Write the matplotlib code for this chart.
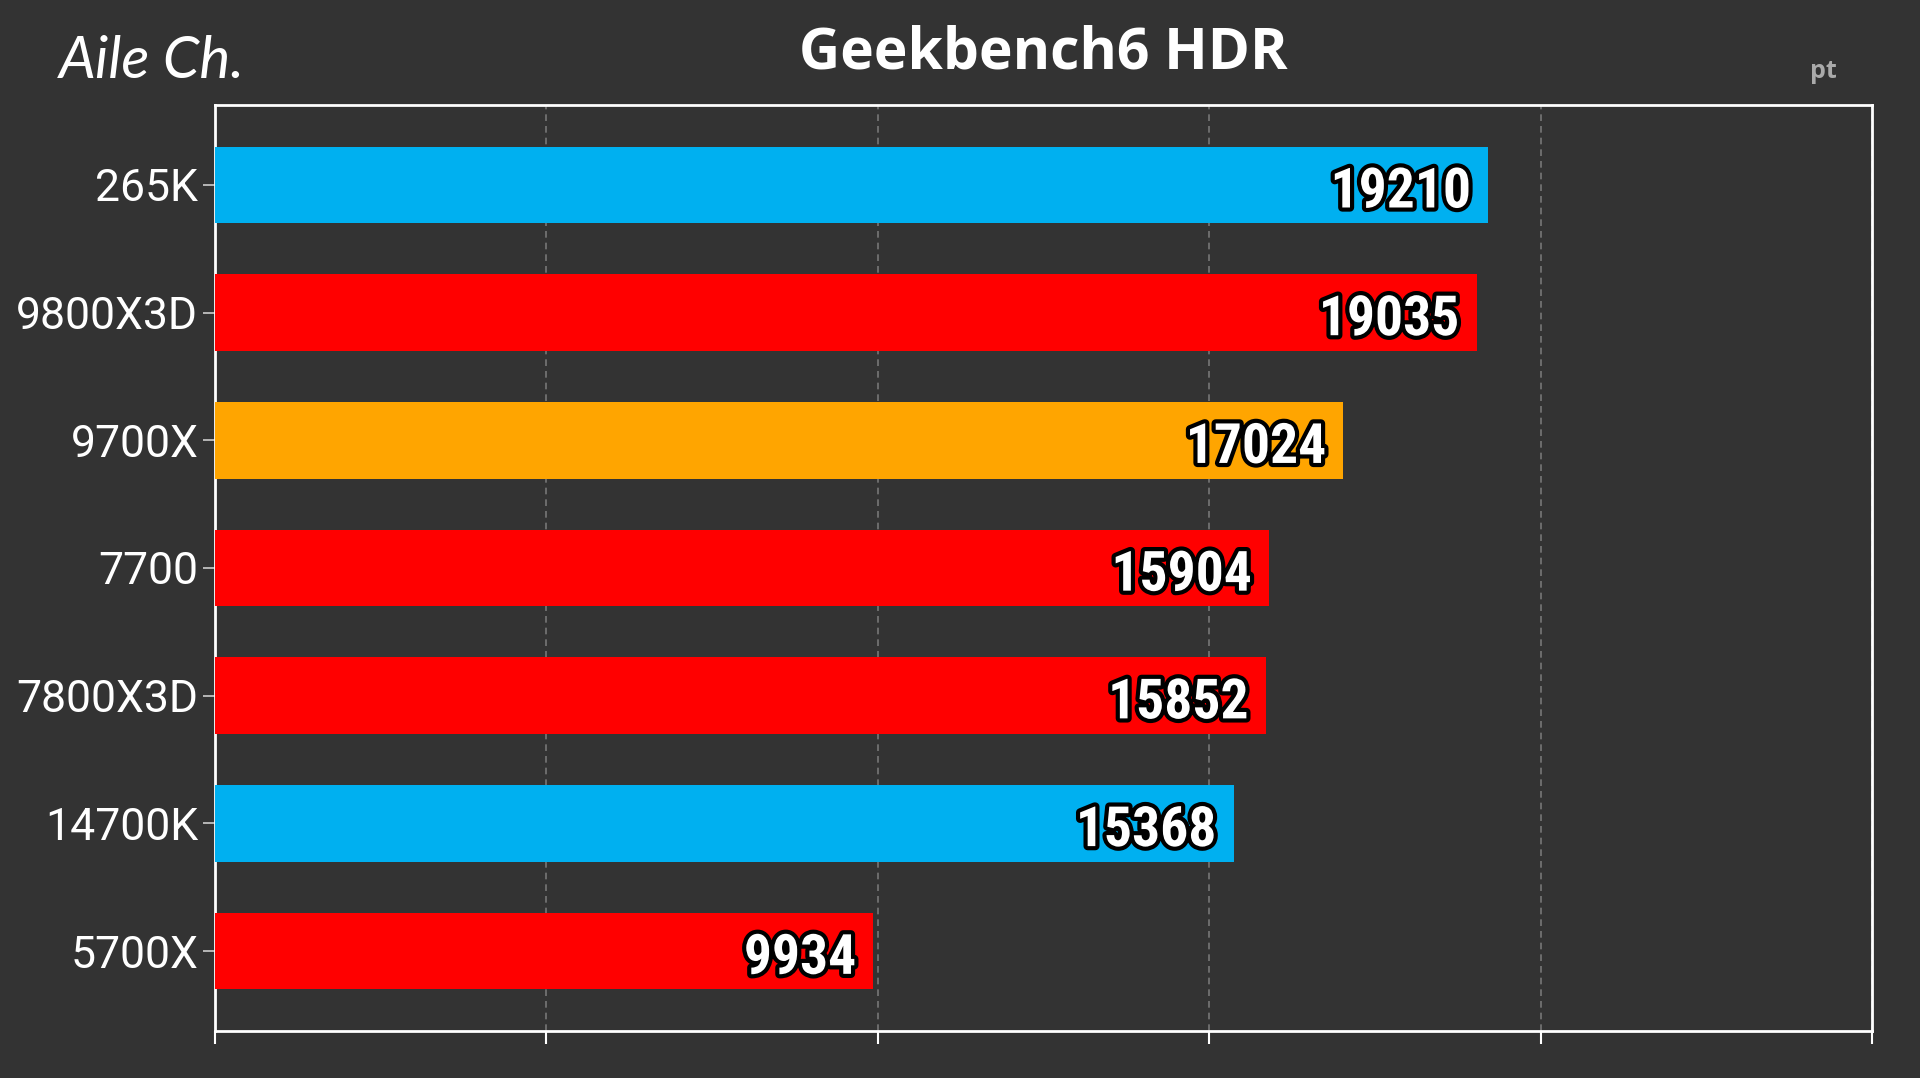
import matplotlib
matplotlib.use("Agg")
import matplotlib.pyplot as plt
import matplotlib.patheffects as pe

# data
cpus = ["265K", "9800X3D", "9700X", "7700", "7800X3D", "14700K", "5700X"]
scores = [19210, 19035, 17024, 15904, 15852, 15368, 9934]
bar_colors = ["#00B0F0", "#FF0000", "#FFA500", "#FF0000", "#FF0000", "#00B0F0", "#FF0000"]
x_ticks = [0, 5000, 10000, 15000, 20000, 25000]

BG = "#333333"

fig = plt.figure(figsize=(19.2, 10.78), dpi=100, facecolor=BG)
ax = fig.add_axes([215 / 1920, 1 - 1031 / 1078, (1872 - 215) / 1920, (1031 - 105) / 1078])
ax.set_facecolor(BG)

y = list(range(len(cpus)))
ax.barh(y, scores, height=0.6, color=bar_colors, zorder=3)

ax.set_xlim(0, 25000)
ax.set_ylim(len(cpus) - 1 + 0.625, -0.625)

ax.set_xticks(x_ticks)
ax.set_xticklabels([])
ax.set_yticks(y)
ax.set_yticklabels(cpus, fontfamily="Roboto", fontsize=32, color="white")
ax.tick_params(axis="x", direction="out", length=9, width=1.5, color="white")
ax.tick_params(axis="y", direction="out", length=9, width=1.2, color="#cccccc", pad=3)

ax.grid(axis="x", linestyle=(0, (4, 3)), color="#777777", linewidth=1.2, zorder=0)
for s in ax.spines.values():
    s.set_color("white")
    s.set_linewidth(2)

# value labels inside the bar ends
for yi, v in zip(y, scores):
    ax.text(v - 260, yi + 0.06, f"{v}", ha="right", va="center",
            fontfamily="Roboto Condensed", fontweight="bold", fontsize=40,
            color="white", zorder=4,
            path_effects=[pe.withStroke(linewidth=6, foreground="black")])

ax.set_title("Geekbench6 HDR", fontfamily="Open Sans", fontweight="bold",
             fontsize=41, color="white", pad=26)

fig.text(1823 / 1920, 1 - 71 / 1078, "pt", ha="center", va="center",
         fontfamily="Open Sans", fontweight="bold", fontsize=18, color="#aaaaaa")

fig.text(59 / 1920, 1 - 62 / 1078, "Aile Ch.", ha="left", va="center",
         fontfamily="Lato", fontstyle="italic", fontsize=42, color="white")

fig.savefig("out.png", dpi=100, facecolor=BG)
